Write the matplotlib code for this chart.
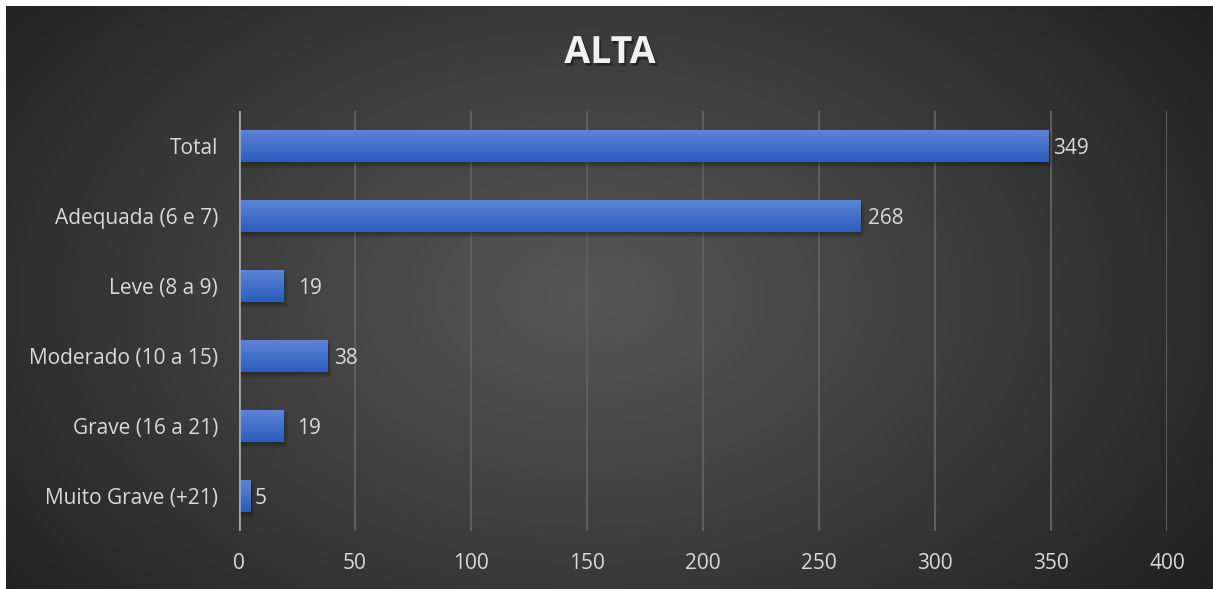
import matplotlib
matplotlib.use("Agg")
import matplotlib.pyplot as plt
import matplotlib.patheffects as pe
import numpy as np

plt.rcParams["font.family"] = ["Open Sans", "DejaVu Sans"]

categories = ["Total", "Adequada (6 e 7)", "Leve (8 a 9)", "Moderado (10 a 15)",
              "Grave (16 a 21)", "Muito Grave (+21)"]
values = [349, 268, 19, 38, 19, 5]
x_ticks = [0, 50, 100, 150, 200, 250, 300, 350, 400]
title = "ALTA"

# per-label horizontal nudge (points) for the value labels
label_nudge = [3, 5, 11, 5, 10, 3]

W, H = 1213, 589
fig = plt.figure(figsize=(W / 100, H / 100), dpi=100, facecolor="white")

# dark radial background
bg = fig.add_axes([6 / W, 0, 1 - 6 / W, 1 - 6 / H])
bg.set_axis_off()
yy, xx = np.mgrid[0:583, 0:1207]
cx, cy = 580, 290
r = np.sqrt(((xx - cx) / 640.0) ** 2 + ((yy - cy) / 420.0) ** 2)
r = np.clip(r, 0, 1.25) / 1.25
g = (0x56 - (0x56 - 0x1d) * r ** 1.1) / 255.0
bg.imshow(np.dstack([g, g, g]), aspect="auto", interpolation="bilinear",
          extent=[0, 1, 0, 1])
bg.set_xlim(0, 1)
bg.set_ylim(0, 1)

ax = fig.add_axes([239 / W, 1 - 531 / H, 928 / W, 420 / H])
ax.set_facecolor("none")
ypos = np.arange(len(categories))
height = 0.46

# gradient for the bar fills
grad = np.linspace(0, 1, 64)[:, None]
top_c = np.array([0x5d, 0x86, 0xd6]) / 255.0
bot_c = np.array([0x2c, 0x5c, 0xbd]) / 255.0
grad_img = top_c[None, None, :] * (1 - grad[..., None]) + bot_c[None, None, :] * grad[..., None]

for y, v, dx in zip(ypos, values, label_nudge):
    # soft drop shadow
    for k, a in enumerate([0.12, 0.09, 0.06, 0.04]):
        off = 0.03 + 0.02 * k
        ax.barh(y + off, v + 0.6 + 0.5 * k, height=height, left=0,
                color="black", alpha=a, linewidth=0, zorder=2)
    bar = ax.barh(y, v, height=height, color=top_c, linewidth=0, zorder=3)[0]
    im = ax.imshow(grad_img, aspect="auto", extent=[0, v, y + height / 2, y - height / 2],
                   interpolation="bilinear", zorder=4)
    im.set_clip_path(bar)
    ax.annotate(str(v), xy=(v, y), xytext=(dx, -2), textcoords="offset points",
                va="center", ha="left", fontsize=15, color="#d9d9d9", zorder=5)

ax.set_xlim(0, 400)
ax.set_ylim(len(categories) - 0.5, -0.5)
ax.set_xticks(x_ticks)
ax.set_yticks(ypos)
ax.set_yticklabels(categories)
ax.tick_params(axis="both", length=0, labelsize=15, labelcolor="#d9d9d9")
ax.tick_params(axis="y", pad=15)
ax.tick_params(axis="x", pad=16)
ax.grid(axis="x", color="#5e5e5e", linewidth=1.5, zorder=1)
ax.set_axisbelow(True)
for s in ax.spines.values():
    s.set_visible(False)
ax.axvline(0, color="#a6a6a6", linewidth=2, zorder=6)

fig.text(610 / W, 1 - 53 / H, title, ha="center", va="center", fontsize=27,
         fontweight="bold", color="#f2f2f2",
         path_effects=[pe.withSimplePatchShadow(offset=(1.5, -2), shadow_rgbFace="black", alpha=0.4)])

fig.savefig("out.png", dpi=100, facecolor="white")
